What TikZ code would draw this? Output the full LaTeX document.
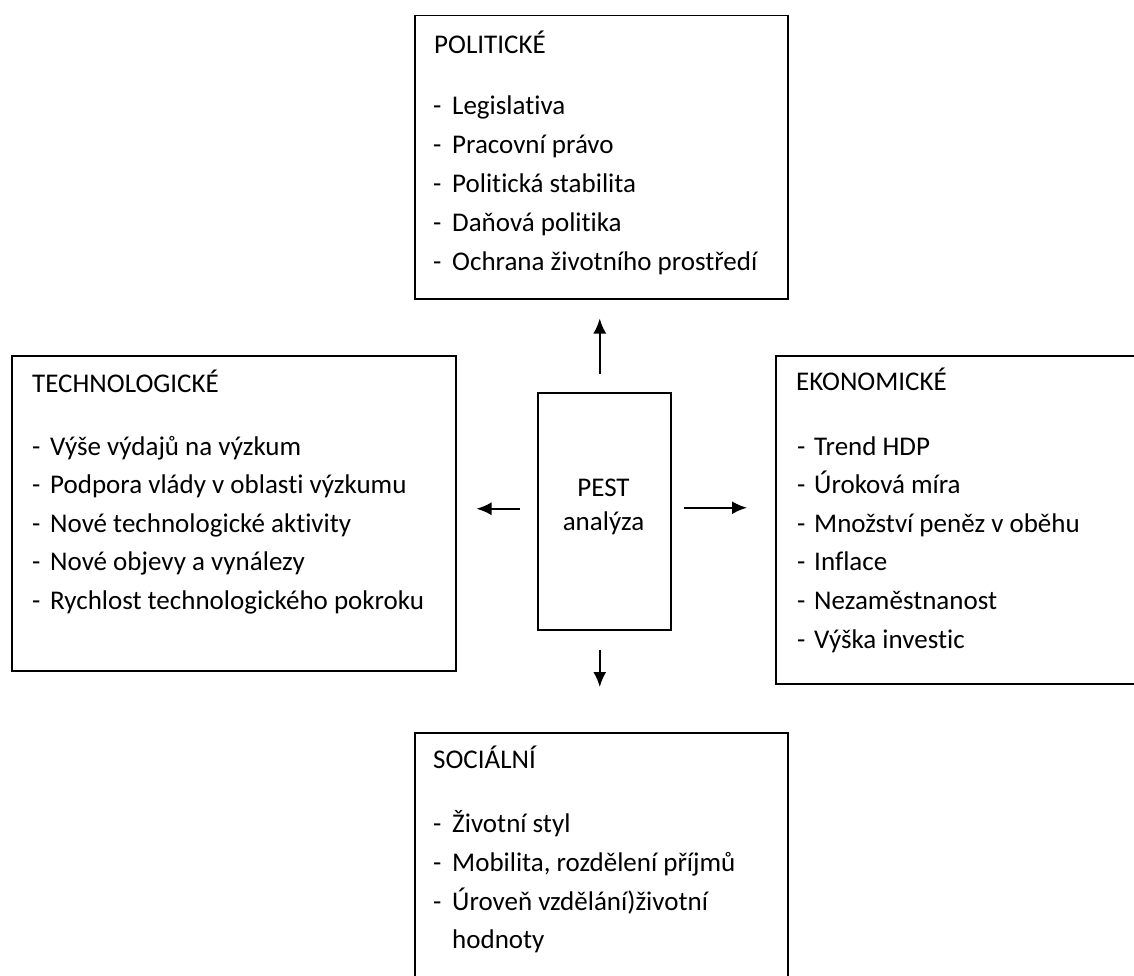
\documentclass[tikz,border=0pt]{standalone}
\usepackage{fontspec}
\setmainfont{Carlito}[Ligatures=NoCommon]
\usetikzlibrary{arrows.meta}
\begin{document}
\begin{tikzpicture}[x=1pt,y=-1pt,
  box/.style={draw=black,line width=1.5pt,inner sep=0pt,anchor=north west},
  txt/.style={anchor=base west,inner sep=0pt,font=\fontsize{27}{32}\selectfont},
  ctxt/.style={anchor=base,inner sep=0pt,font=\fontsize{27}{32}\selectfont},
  arr/.style={-{Latex[length=15pt,width=13pt]},line width=2pt}]
\useasboundingbox (0,0) rectangle (1134,976);

% frames
\node[box,minimum width=373pt,minimum height=283pt] (pol)  at (414,15)  {};
\node[box,minimum width=444pt,minimum height=315pt] (tech) at (11,355)  {};
\node[box,minimum width=372pt,minimum height=328pt] (eko)  at (775,355) {};
\node[box,minimum width=373pt,minimum height=262pt] (soc)  at (414,732) {};
\node[box,minimum width=133pt,minimum height=237pt] (pest) at (537,392) {};

% centre label
\node[ctxt] (pestA) at (603.5,496) {PEST};
\node[ctxt] (pestB) at (603.5,530) {analýza};

% political factors
\node[txt] (polT) at (434,54) {POLITICKÉ};
\foreach \t [count=\i from 0] in {Legislativa,Pracovní právo,Politická stabilita,Daňová politika,Ochrana životního prostředí}{
  \node[txt] (polD\i) at (433,115+38.8*\i) {-};
  \node[txt] (polI\i) at (452,115+38.8*\i) {\t};
}

% technological factors
\node[txt] (techT) at (32,392) {TECHNOLOGICKÉ};
\foreach \t [count=\i from 0] in {Výše výdajů na výzkum,Podpora vlády v oblasti výzkumu,Nové technologické aktivity,Nové objevy a vynálezy,Rychlost technologického pokroku}{
  \node[txt] (techD\i) at (32,455+38.6*\i) {-};
  \node[txt] (techI\i) at (50,455+38.6*\i) {\t};
}

% economic factors
\node[txt] (ekoT) at (796,390) {EKONOMICKÉ};
\foreach \t [count=\i from 0] in {Trend HDP,Úroková míra,Množství peněz v oběhu,Inflace,Nezaměstnanost,Výška investic}{
  \node[txt] (ekoD\i) at (797,455+38.6*\i) {-};
  \node[txt] (ekoI\i) at (814,455+38.6*\i) {\t};
}

% social factors
\node[txt] (socT) at (433,768) {SOCIÁLNÍ};
\foreach \t [count=\i from 0] in {Životní styl,{Mobilita, rozdělení příjmů},Úroveň vzdělání)životní}{
  \node[txt] (socD\i) at (433,832+39*\i) {-};
  \node[txt] (socI\i) at (452,832+39*\i) {\t};
}
\node[txt] (socI3) at (452,948) {hodnoty};

% arrows from the centre
\draw[arr] ([xshift=-4.5pt,yshift=18pt]pest.north) -- ([xshift=-1.5pt,yshift=-19pt]pol.south);
\draw[arr] ([xshift=-4.5pt,yshift=-19pt]pest.south) -- ([xshift=-1.5pt,yshift=45pt]soc.north);
\draw[arr] ([xshift=12pt,yshift=3.5pt]pest.east) -- ([xshift=-28pt,yshift=12pt]eko.west);
\draw[arr] ([xshift=-17pt,yshift=2.5pt]pest.west) -- ([xshift=20pt,yshift=4.5pt]tech.east);
\end{tikzpicture}
\end{document}
